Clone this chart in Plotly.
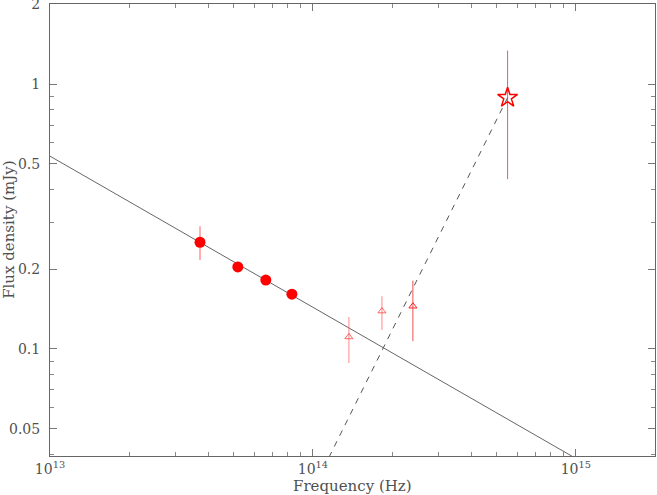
import numpy as np
import plotly.graph_objects as go

# photometry (frequency in Hz, flux density in mJy)
nu_circ = [3.72e13, 5.18e13, 6.62e13, 8.32e13]
f_circ = [0.253, 0.204, 0.182, 0.161]
f_circ_hi = [0.291, 0.211, 0.188, 0.166]
f_circ_lo = [0.217, 0.197, 0.176, 0.156]

nu_tri = [1.37e14, 1.83e14, 2.40e14]
f_tri = [0.111, 0.139, 0.145]
f_tri_hi = [0.132, 0.158, 0.181]
f_tri_lo = [0.0885, 0.118, 0.107]

nu_star = [5.5e14]
f_star = [0.89]
f_star_hi = [1.34]
f_star_lo = [0.438]

# power-law fit: F = norm * (nu/1e13)^index
pl_norm = 0.535
pl_index = -0.571
# Rayleigh-Jeans tail, F ~ nu^2, anchored on the star point
rj_index = 2.0

x_ticks = [1e13, 1e14, 1e15]
x_ticktext = ["10<sup>13</sup>", "10<sup>14</sup>", "10<sup>15</sup>"]
y_ticks = [0.05, 0.1, 0.2, 0.5, 1, 2]
y_ticktext = ["0.05", "0.1", "0.2", "0.5", "1", "2"]

x_minor = [m * 10**d for d in (13, 14) for m in range(2, 10)] + [2e15]
y_minor = [0.04, 0.06, 0.07, 0.08, 0.09, 0.3, 0.4, 0.6, 0.7, 0.8, 0.9]

def errs(v, hi, lo):
    return (list(np.array(hi) - np.array(v)), list(np.array(v) - np.array(lo)))

fig = go.Figure()

pl_x = np.array([1e13, 2e15])
fig.add_trace(go.Scatter(x=pl_x, y=pl_norm * (pl_x / 1e13) ** pl_index, mode='lines',
                         line=dict(color='#666666', width=1), showlegend=False))

rj_x = np.array([1e14, nu_star[0]])
fig.add_trace(go.Scatter(x=rj_x, y=f_star[0] * (rj_x / nu_star[0]) ** rj_index, mode='lines',
                         line=dict(color='#555555', width=1, dash='6px,6px'), showlegend=False))

p, m = errs(f_circ, f_circ_hi, f_circ_lo)
fig.add_trace(go.Scatter(x=nu_circ, y=f_circ, mode='markers',
                         marker=dict(symbol='circle', size=11, color='#ff0000'),
                         error_y=dict(type='data', symmetric=False, array=p, arrayminus=m,
                                      color='rgba(255,60,60,0.55)', thickness=1.5, width=0),
                         showlegend=False))

p, m = errs(f_tri, f_tri_hi, f_tri_lo)
fig.add_trace(go.Scatter(x=nu_tri[:2], y=f_tri[:2], mode='markers',
                         marker=dict(symbol='triangle-up-open', size=7, color='rgba(255,40,40,0.7)',
                                     line=dict(width=1)),
                         error_y=dict(type='data', symmetric=False, array=p[:2], arrayminus=m[:2],
                                      color='rgba(255,80,80,0.45)', thickness=1.5, width=0),
                         showlegend=False))
fig.add_trace(go.Scatter(x=nu_tri[2:], y=f_tri[2:], mode='markers',
                         marker=dict(symbol='triangle-up-open', size=7, color='#ff2020',
                                     line=dict(width=1)),
                         error_y=dict(type='data', symmetric=False, array=p[2:], arrayminus=m[2:],
                                      color='rgba(230,40,40,0.8)', thickness=1, width=0),
                         showlegend=False))

p, m = errs(f_star, f_star_hi, f_star_lo)
fig.add_trace(go.Scatter(x=nu_star, y=f_star, mode='markers',
                         marker=dict(symbol='star-open', size=15, color='#ff0000',
                                     line=dict(width=1.5)),
                         error_y=dict(type='data', symmetric=False, array=p, arrayminus=m,
                                      color='rgba(255,40,40,0.8)', thickness=1, width=0),
                         showlegend=False))

tick_font = dict(family='DejaVu Serif', size=14, color='#505050')
title_font = dict(family='DejaVu Serif', size=15, color='#505050')
axis_common = dict(showgrid=False, zeroline=False, showline=True, linecolor='#666666', linewidth=1,
                   mirror='allticks', ticks='inside', ticklen=7, tickcolor='#777777', tickwidth=1,
                   tickfont=tick_font, automargin=False, ticklabeloverflow='allow')

fig.update_layout(
    width=657, height=495,
    margin=dict(l=50, r=2, t=4, b=39),
    plot_bgcolor='white', paper_bgcolor='white',
    font=tick_font,
    xaxis=dict(type='log', range=[13, np.log10(2e15)], tickmode='array', tickvals=x_ticks,
               ticktext=x_ticktext, ticklabelstandoff=0,
               minor=dict(tickmode='array', tickvals=x_minor, ticks='inside', ticklen=4,
                          tickcolor='#888888', showgrid=False),
               **axis_common),
    yaxis=dict(type='log', range=[np.log10(0.0394), np.log10(2.01)], tickmode='array', tickvals=y_ticks,
               ticktext=y_ticktext, ticklabelstandoff=6,
               minor=dict(tickmode='array', tickvals=y_minor, ticks='inside', ticklen=4,
                          tickcolor='#888888', showgrid=False),
               **axis_common),
    annotations=[
        dict(text='Frequency (Hz)', xref='paper', yref='paper', x=0.5, y=-0.066,
             xanchor='center', yanchor='middle', showarrow=False, font=title_font),
        dict(text='Flux density (mJy)', xref='paper', yref='paper', x=-0.068, y=0.5,
             xanchor='center', yanchor='middle', textangle=-90, showarrow=False, font=title_font),
    ],
)

fig.write_html("out.html", config={'displayModeBar': False},
               post_script="document.body.style.margin='0';")
